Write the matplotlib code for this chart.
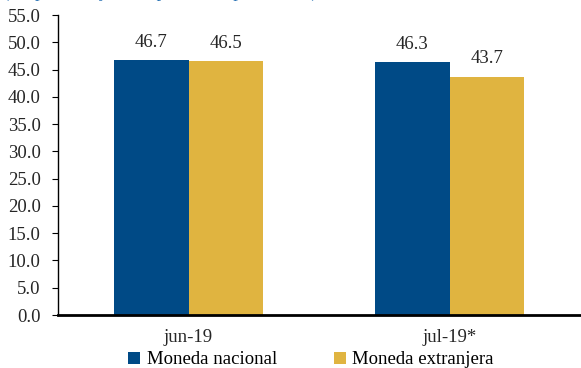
import matplotlib
matplotlib.use("Agg")
import matplotlib.pyplot as plt
import numpy as np

categories = ["jun-19", "jul-19*"]
series_names = ["Moneda nacional", "Moneda extranjera"]
nacional = [46.7, 46.3]
extranjera = [46.5, 43.7]
yticks = np.arange(0, 55.1, 5)

blue = "#004A86"
gold = "#E0B440"
txt = "#262626"

plt.rcParams["font.family"] = ["Liberation Serif", "DejaVu Serif"]

fig = plt.figure(figsize=(5.81, 3.68), dpi=100)
ax = fig.add_axes([58 / 581, 53 / 368, 522 / 581, 300 / 368])

x = np.arange(len(categories))
w = 0.287
b1 = ax.bar(x - w / 2, nacional, w, color=blue, label=series_names[0])
b2 = ax.bar(x + w / 2, extranjera, w, color=gold, label=series_names[1])

# value labels on top of bars
for bars in (b1, b2):
    for r in bars:
        ax.annotate(f"{r.get_height():.1f}", (r.get_x() + r.get_width() / 2, r.get_height()),
                    xytext=(0, 7), textcoords="offset points", ha="center", va="bottom",
                    fontsize=13.5, color=txt)

ax.set_xlim(-0.5, 1.5)
ax.set_ylim(0, 55)
ax.set_yticks(yticks)
ax.set_yticklabels([f"{v:.1f}" for v in yticks], fontsize=13.5, color=txt)
ax.set_xticks(x)
ax.set_xticklabels(categories, fontsize=13.5, color=txt)
ax.tick_params(axis="x", length=0, pad=10)
ax.tick_params(axis="y", length=4.5, width=0.8, pad=8, direction="out")

for s in ("top", "right"):
    ax.spines[s].set_visible(False)
ax.spines["left"].set_linewidth(1.0)
ax.spines["bottom"].set_linewidth(2.0)

fig.legend(handles=[b1, b2], labels=series_names, loc="center", bbox_to_anchor=(311 / 581, 1 - 360 / 368),
           ncol=2, frameon=False, fontsize=13.5, handlelength=0.65, handleheight=0.65,
           handletextpad=0.35, columnspacing=3.0, borderaxespad=0, borderpad=0)

# subtitle, clipped at the top edge as in the source
fig.text(3 / 581, 1 + 3 / 368, "(En porcentaje, tasa promedio ponderada)", color="#2E75B6",
         fontsize=13.5, va="baseline", ha="left")

fig.savefig("out.png", dpi=100)
